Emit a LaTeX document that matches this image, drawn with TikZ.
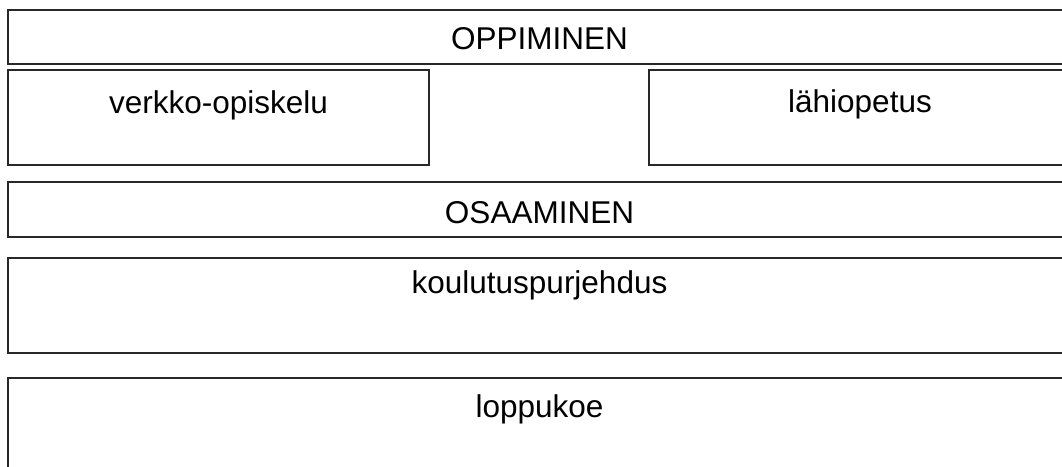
\documentclass[tikz,border=0pt]{standalone}
\usepackage{fontspec}
\setmainfont{Liberation Sans}
\usepackage{tikz}
\usetikzlibrary{calc}
\definecolor{edge}{RGB}{40, 40, 40}

\begin{document}
\begin{tikzpicture}[x=1pt, y=-1pt,
  box/.style={draw=edge, line width=1.3pt, anchor=north west, inner sep=0pt, outer sep=0pt},
  lbl/.style={anchor=base, inner sep=0pt, font=\fontsize{31.5}{38}\selectfont}]

  \clip (0, 0) rectangle (1062, 466);

  \node[box, minimum width=1063pt, minimum height=54pt] (opp) at (8, 10) {};
  \node[lbl] (opptxt) at ($(opp.north) + (0, 39)$) {OPPIMINEN};

  \node[box, minimum width=421pt, minimum height=95pt] (verkko) at (8, 70) {};
  \node[lbl] (verkkotxt) at ($(verkko.north) + (0, 43)$) {verkko-opiskelu};

  \node[box, minimum width=422pt, minimum height=95pt] (lahi) at (649, 70) {};
  \node[lbl] (lahitxt) at ($(lahi.north) + (0, 42)$) {lähiopetus};

  \node[box, minimum width=1063pt, minimum height=55pt] (osa) at (8, 182) {};
  \node[lbl] (osatxt) at ($(osa.north) + (0, 41)$) {OSAAMINEN};

  \node[box, minimum width=1063pt, minimum height=95pt] (koulu) at (8, 258) {};
  \node[lbl] (koulutxt) at ($(koulu.north) + (0, 35)$) {koulutuspurjehdus};

  \node[box, minimum width=1063pt, minimum height=100pt] (loppu) at (8, 378) {};
  \node[lbl] (lopputxt) at ($(loppu.north) + (0, 39)$) {loppukoe};

\end{tikzpicture}
\end{document}
